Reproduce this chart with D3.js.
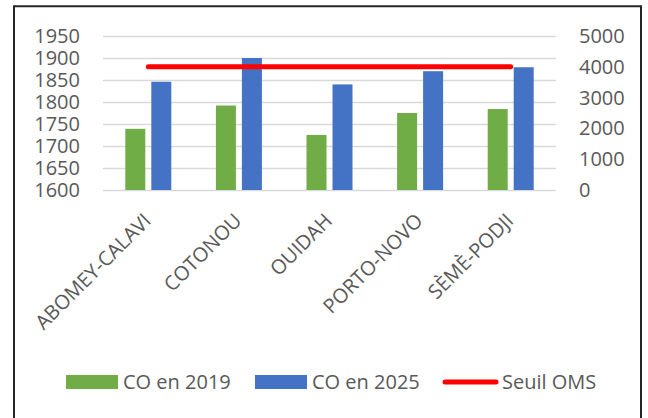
<!DOCTYPE html>
<html>
<head>
<meta charset="utf-8">
<script src="https://d3js.org/d3.v7.min.js"></script>
<style>
  body { margin: 0; background: #fff; }
  text { font-family: "Open Sans", sans-serif; fill: #595959; }
</style>
</head>
<body>
<script>
  // data
  var communes = ["ABOMEY-CALAVI", "COTONOU", "OUIDAH", "PORTO-NOVO", "SÈMÈ-PODJI"];
  var co2019 = [1739, 1792, 1725, 1775, 1784];
  var co2025 = [1846, 1900, 1840, 1870, 1879];
  var seuilOMS = 4000;
  var leftTicks = [1600, 1650, 1700, 1750, 1800, 1850, 1900, 1950];
  var rightTicks = [0, 1000, 2000, 3000, 4000, 5000];
  var seriesNames = ["CO en 2019", "CO en 2025", "Seuil OMS"];
  var colors = ["#70ad47", "#4472c4", "#ff0000"];

  var W = 648, H = 418;
  var plotL = 103, plotR = 556, plotT = 36, plotB = 190;
  var fs = "20px";

  var svg = d3.select("body").append("svg")
      .attr("width", W)
      .attr("height", H);

  // outer frame (bottom edge falls outside the picture)
  svg.append("path")
      .attr("d", "M14,430 L14,6.3 L641,6.3 L641,430")
      .attr("fill", "none")
      .attr("stroke", "#262626")
      .attr("stroke-width", 2);

  var x0 = d3.scaleBand()
      .domain(communes)
      .range([plotL, plotR])
      .paddingInner(0);

  var x1 = d3.scaleBand()
      .domain([0, 1])
      .range([0, 46])
      .paddingInner(0.231);

  var yLeft = d3.scaleLinear()
      .domain([1600, 1950])
      .range([plotB, plotT]);

  var yRight = d3.scaleLinear()
      .domain([0, 5000])
      .range([plotB, plotT]);

  // gridlines + left labels
  var leftAxis = d3.axisLeft(yLeft)
      .tickValues(leftTicks)
      .tickFormat(d3.format("d"))
      .tickSize(-(plotR - plotL))
      .tickPadding(23);

  var gl = svg.append("g")
      .attr("transform", "translate(" + plotL + ",0)")
      .call(leftAxis);
  gl.select(".domain").remove();
  gl.selectAll(".tick line").attr("stroke", "#d9d9d9").attr("stroke-width", 1.5);
  gl.selectAll(".tick text")
      .style("font-size", fs)
      .style("font-family", "'Open Sans', sans-serif")
      .attr("fill", "#595959");

  var rightAxis = d3.axisRight(yRight)
      .tickValues(rightTicks)
      .tickFormat(d3.format("d"))
      .tickSize(0)
      .tickPadding(23);

  var gr = svg.append("g")
      .attr("transform", "translate(" + plotR + ",0)")
      .call(rightAxis);
  gr.select(".domain").remove();
  gr.selectAll(".tick text")
      .style("font-size", fs)
      .style("font-family", "'Open Sans', sans-serif")
      .attr("fill", "#595959");

  // bars
  var groups = svg.selectAll(".grp")
      .data(communes)
      .enter().append("g")
      .attr("transform", function(d) {
        return "translate(" + (x0(d) + x0.bandwidth() / 2 - 23) + ",0)";
      });

  groups.append("rect")
      .attr("x", x1(0))
      .attr("y", function(d, i) { return yLeft(co2019[i]); })
      .attr("width", x1.bandwidth())
      .attr("height", function(d, i) { return plotB - yLeft(co2019[i]); })
      .attr("fill", colors[0]);

  groups.append("rect")
      .attr("x", x1(1))
      .attr("y", function(d, i) { return yLeft(co2025[i]); })
      .attr("width", x1.bandwidth())
      .attr("height", function(d, i) { return plotB - yLeft(co2025[i]); })
      .attr("fill", colors[1]);

  // seuil line on right axis
  var line = d3.line()
      .x(function(d) { return x0(d) + x0.bandwidth() / 2; })
      .y(function() { return yRight(seuilOMS); });

  svg.append("path")
      .datum(communes)
      .attr("d", line)
      .attr("fill", "none")
      .attr("stroke", colors[2])
      .attr("stroke-width", 5)
      .attr("stroke-linecap", "round");

  // category labels, rotated
  svg.selectAll(".cat")
      .data(communes)
      .enter().append("text")
      .attr("transform", function(d) {
        return "translate(" + (x0(d) + x0.bandwidth() / 2 + 4) + ",222) rotate(-45)";
      })
      .attr("text-anchor", "end")
      .style("font-size", fs)
      .text(function(d) { return d; });

  // legend
  var legY = 382;
  var legX = [66, 255, 443];
  var leg = svg.selectAll(".leg")
      .data(seriesNames)
      .enter().append("g")
      .attr("transform", function(d, i) { return "translate(" + legX[i] + "," + legY + ")"; });

  leg.filter(function(d, i) { return i < 2; })
      .append("rect")
      .attr("x", 0).attr("y", -7)
      .attr("width", 52).attr("height", 14)
      .attr("fill", function(d, i) { return colors[i]; });

  leg.filter(function(d, i) { return i == 2; })
      .append("line")
      .attr("x1", 2).attr("x2", 53)
      .attr("y1", 0).attr("y2", 0)
      .attr("stroke", colors[2])
      .attr("stroke-width", 5)
      .attr("stroke-linecap", "round");

  leg.append("text")
      .attr("x", function(d, i) { return i < 2 ? 57 : 59; })
      .attr("y", 7)
      .style("font-size", fs)
      .text(function(d) { return d; });
</script>
</body>
</html>
